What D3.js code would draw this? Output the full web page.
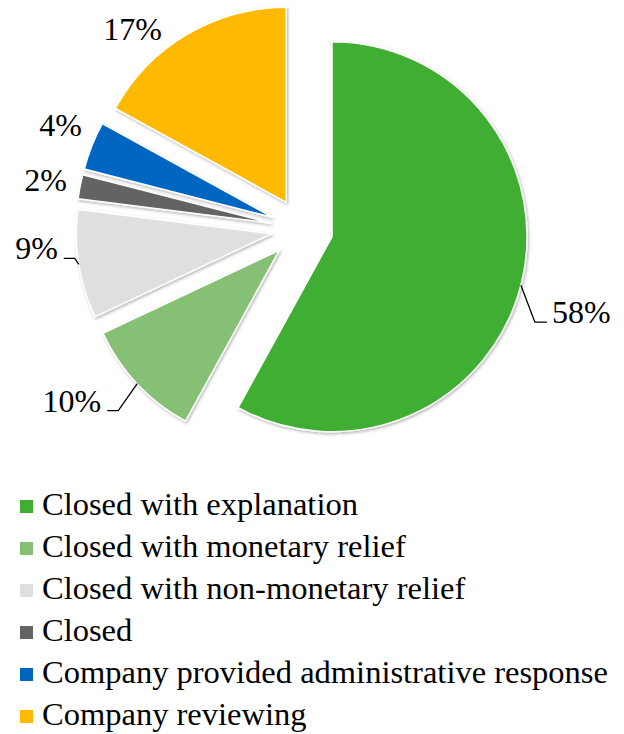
<!DOCTYPE html>
<html>
<head>
<meta charset="utf-8">
<script src="https://cdn.jsdelivr.net/npm/d3@7"></script>
<style>
  body { margin: 0; background: #fff; }
  text { font-family: "Liberation Serif", "Times New Roman", serif; fill: #000; }
</style>
</head>
<body>
<script>
// data
var categories = ["Closed with explanation", "Closed with monetary relief",
  "Closed with non-monetary relief", "Closed",
  "Company provided administrative response", "Company reviewing"];
var shares = [58, 10, 9, 2, 4, 17];
var colors = ["#40ae31", "#85c074", "#dfdfdf", "#626365", "#0066c2", "#feb901"];

// label placement relative to the slice's outer mid point
// [dx, dy, leader]
var labelPos = [
  [14, 37, true],
  [-19, 27, true],
  [-4, -6, true],
  [-13, 4, false],
  [-10, -10, false],
  [-25, 6, false]
];

var width = 624, height = 734;
var cx = 302, cy = 229, radius = 195, explode = 31;

var svg = d3.select("body")
  .append("svg")
  .attr("width", width)
  .attr("height", height);

var defs = svg.append("defs");
var shadow = defs.append("filter")
  .attr("id", "shadow")
  .attr("x", "-20%").attr("y", "-20%")
  .attr("width", "140%").attr("height", "140%");
shadow.append("feDropShadow")
  .attr("dx", 1).attr("dy", 1.5)
  .attr("stdDeviation", 1.5)
  .attr("flood-color", "#000")
  .attr("flood-opacity", 0.3);

var pie = d3.pie().sort(null).value(function(d) { return d; });
var arcs = pie(shares);

var arc = d3.arc().innerRadius(0).outerRadius(radius);

function midAngle(d) { return (d.startAngle + d.endAngle) / 2; }
function offset(d) {
  var a = midAngle(d);
  return [cx + explode * Math.sin(a), cy - explode * Math.cos(a)];
}

var g = svg.append("g");

g.selectAll("path.slice")
  .data(arcs)
  .enter()
  .append("path")
  .attr("class", "slice")
  .attr("transform", function(d) {
    var o = offset(d);
    return "translate(" + o[0] + "," + o[1] + ")";
  })
  .attr("d", arc)
  .attr("fill", function(d, i) { return colors[i]; })
  .attr("stroke", "#fff")
  .attr("stroke-width", 1.5)
  .attr("filter", "url(#shadow)");

// labels
arcs.forEach(function(d, i) {
  var o = offset(d);
  var a = midAngle(d);
  var mx = o[0] + radius * Math.sin(a);
  var my = o[1] - radius * Math.cos(a);
  var p = labelPos[i];
  var right = Math.sin(a) > 0;
  var ex = mx + p[0], ey = my + p[1];
  if (p[2]) {
    var hx = right ? ex + 12 : ex - 11;
    g.append("path")
      .attr("d", "M" + mx + "," + my + "L" + ex + "," + ey + "L" + hx + "," + ey)
      .attr("fill", "none")
      .attr("stroke", "#000")
      .attr("stroke-width", 1.3);
    g.append("text")
      .attr("x", right ? hx + 5 : hx - 6)
      .attr("y", ey + 1)
      .attr("font-size", "32px")
      .attr("text-anchor", right ? "start" : "end")
      .text(shares[i] + "%");
  } else {
    g.append("text")
      .attr("x", ex)
      .attr("y", ey)
      .attr("font-size", "32px")
      .attr("text-anchor", "end")
      .text(shares[i] + "%");
  }
});

// legend
var legend = svg.append("g")
  .attr("transform", "translate(20,515)");

var rows = legend.selectAll("g.row")
  .data(categories)
  .enter()
  .append("g")
  .attr("class", "row")
  .attr("transform", function(d, i) { return "translate(0," + (i * 42) + ")"; });

rows.append("rect")
  .attr("x", 0)
  .attr("y", -15)
  .attr("width", 13)
  .attr("height", 13)
  .attr("fill", function(d, i) { return colors[i]; });

rows.append("text")
  .attr("x", 22)
  .attr("y", 0)
  .attr("font-size", "32.5px")
  .text(function(d) { return d; });
</script>
</body>
</html>
